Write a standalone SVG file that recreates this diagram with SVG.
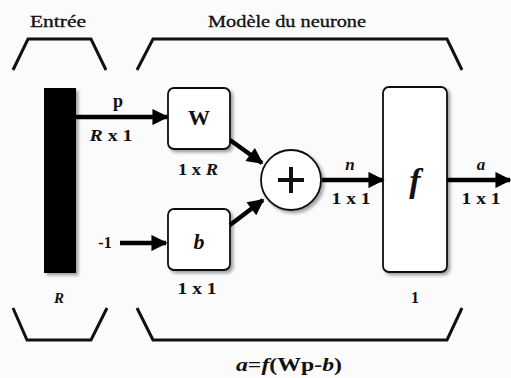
<svg xmlns="http://www.w3.org/2000/svg" width="511" height="378" viewBox="0 0 511 378">
<defs>
<style>
.br{fill:none;stroke:#111;stroke-width:3;stroke-linejoin:miter}
.box{fill:#fff;stroke:#111;stroke-width:1.8}
.ln{fill:none;stroke:#000;stroke-width:4.5}
.t{font-family:'Liberation Serif','DejaVu Serif','Noto Serif',serif;font-weight:bold;fill:#111;text-anchor:middle}
.it{font-style:italic}
.hd{font-family:'Liberation Serif','DejaVu Serif','Noto Serif',serif;font-size:16px;fill:#111;text-anchor:middle;stroke:#111;stroke-width:0.3}
</style>
<marker id="ah" viewBox="0 0 10 10" refX="9" refY="5" markerWidth="4.2" markerHeight="3.6" markerUnits="strokeWidth" orient="auto">
<path d="M0,0 L10,5 L0,10 z" fill="#000"/>
</marker>
<filter id="sh" x="-20%" y="-20%" width="150%" height="150%">
<feDropShadow dx="2.5" dy="2.5" stdDeviation="1.5" flood-color="#000" flood-opacity="0.35"/>
</filter>
</defs>
<rect width="511" height="378" fill="#fbfbfb"/>

<g id="brackets">
<polyline class="br" points="13,70 28,39 91,39 106,70"/>
<polyline class="br" points="137,70 153,39 447,39 462,70"/>
<polyline class="br" points="13,308 27,340 91,340 107,308"/>
<polyline class="br" points="137,308 153,340 447,340 462,308"/>
</g>
<text class="hd" x="58" y="27" textLength="56" lengthAdjust="spacingAndGlyphs">Entrée</text>
<text class="hd" x="287" y="27" textLength="158" lengthAdjust="spacingAndGlyphs">Modèle du neurone</text>

<g id="input">
<rect x="44" y="88" width="32" height="185" fill="#000" filter="url(#sh)"/>
<text class="t it" x="59" y="303" font-size="15">R</text>
</g>

<g id="W">
<rect class="box" x="168" y="88" width="62" height="61" rx="6" filter="url(#sh)"/>
<text class="t" x="199" y="125" font-size="22">W</text>
<text class="t" x="198" y="175" font-size="16" textLength="40" lengthAdjust="spacingAndGlyphs">1 x <tspan class="it">R</tspan></text>
</g>

<g id="b">
<rect class="box" x="168" y="209" width="62" height="61" rx="6" filter="url(#sh)"/>
<text class="t it" x="199" y="249" font-size="22">b</text>
<text class="t" x="197" y="294" font-size="16" textLength="39" lengthAdjust="spacingAndGlyphs">1 x 1</text>
</g>

<g id="sum">
<circle class="box" cx="291" cy="180" r="30" filter="url(#sh)"/>
<path d="M278,180 H304 M291,167 V193" stroke="#111" stroke-width="4" fill="none"/>
</g>

<g id="f">
<rect class="box" x="383" y="87" width="64" height="185" rx="6" filter="url(#sh)"/>
<text class="t it" x="415" y="192" font-size="34" font-weight="normal">f</text>
<text class="t" x="415" y="303" font-size="16">1</text>
</g>

<g id="connectors">
<line class="ln" x1="76" y1="117" x2="167" y2="117" marker-end="url(#ah)"/>
<line class="ln" x1="120" y1="243" x2="166" y2="243" marker-end="url(#ah)"/>
<line class="ln" x1="230" y1="140" x2="262" y2="163" marker-end="url(#ah)"/>
<line class="ln" x1="230" y1="225" x2="263" y2="200" marker-end="url(#ah)"/>
<line class="ln" x1="322" y1="180" x2="383" y2="180" marker-end="url(#ah)"/>
<line class="ln" x1="447" y1="180" x2="510" y2="180" marker-end="url(#ah)"/>
</g>
<text class="t" x="118" y="107" font-size="18">p</text>
<text class="t" x="111" y="141" font-size="16" textLength="43" lengthAdjust="spacingAndGlyphs"><tspan class="it">R</tspan> x 1</text>
<text class="t" x="105" y="248" font-size="16">-1</text>
<text class="t it" x="350" y="170" font-size="17">n</text>
<text class="t" x="351" y="204" font-size="16" textLength="39" lengthAdjust="spacingAndGlyphs">1 x 1</text>
<text class="t it" x="481" y="170" font-size="17">a</text>
<text class="t" x="481" y="204" font-size="16" textLength="39" lengthAdjust="spacingAndGlyphs">1 x 1</text>
<text class="t" x="289" y="371" font-size="19" textLength="106" lengthAdjust="spacingAndGlyphs"><tspan class="it">a</tspan>=<tspan class="it">f</tspan>(Wp-<tspan class="it">b</tspan>)</text>
</svg>
